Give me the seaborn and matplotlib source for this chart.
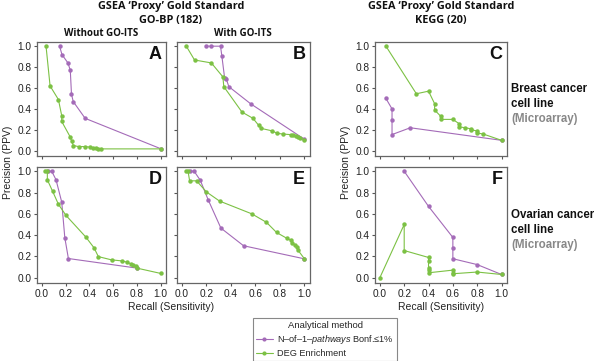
import numpy as np
import pandas as pd
import seaborn as sns
import matplotlib.pyplot as plt
from matplotlib.lines import Line2D

sns.set_style('ticks')
plt.rcParams['font.family'] = ['Liberation Sans', 'DejaVu Sans']
plt.rcParams['mathtext.fontset'] = 'custom'
plt.rcParams['mathtext.it'] = 'Liberation Sans:italic'
plt.rcParams['mathtext.rm'] = 'Liberation Sans'

methods = ['N\u2013of\u20131\u2013$\\it{pathways}$ Bonf.\u22641%', 'DEG Enrichment']
colors = ['#a46bb8', '#7cc144']

# A : GO-BP, without GO-ITS, breast
a_n1_recall = [0.15, 0.17, 0.22, 0.24, 0.25, 0.265, 0.365, 1.0]
a_n1_prec = [1.0, 0.92, 0.84, 0.77, 0.54, 0.47, 0.31, 0.02]
a_deg_recall = [0.036, 0.07, 0.14, 0.168, 0.168, 0.238, 0.252, 0.266, 0.31, 0.364,
                0.406, 0.434, 0.457, 0.475, 0.495, 1.0]
a_deg_prec = [1.0, 0.62, 0.49, 0.335, 0.28, 0.135, 0.09, 0.05, 0.04, 0.04,
              0.035, 0.028, 0.022, 0.018, 0.018, 0.018]

# B : GO-BP, with GO-ITS, breast
b_n1_recall = [0.193, 0.24, 0.315, 0.326, 0.348, 0.362, 0.383, 0.56, 1.0]
b_n1_prec = [1.0, 1.0, 1.0, 0.906, 0.70, 0.686, 0.613, 0.45, 0.11]
b_deg_recall = [0.036, 0.103, 0.24, 0.334, 0.342, 0.49, 0.58, 0.625, 0.647, 0.737,
                0.777, 0.823, 0.89, 0.91, 0.927, 0.946, 0.965, 1.0]
b_deg_prec = [1.0, 0.868, 0.84, 0.707, 0.613, 0.37, 0.31, 0.245, 0.214, 0.19,
              0.167, 0.16, 0.154, 0.148, 0.14, 0.13, 0.12, 0.104]

# C : KEGG, breast
c_n1_recall = [0.05, 0.10, 0.10, 0.10, 0.25, 1.0]
c_n1_prec = [0.50, 0.40, 0.29, 0.155, 0.22, 0.10]
c_deg_recall = [0.05, 0.30, 0.40, 0.45, 0.45, 0.50, 0.50, 0.60, 0.65, 0.65,
                0.70, 0.75, 0.75, 0.80, 0.80, 0.85, 1.0]
c_deg_prec = [1.0, 0.545, 0.57, 0.45, 0.39, 0.33, 0.30, 0.30, 0.26, 0.23,
              0.22, 0.21, 0.20, 0.19, 0.17, 0.16, 0.10]

# D : GO-BP, without GO-ITS, ovarian
d_n1_recall = [0.056, 0.084, 0.12, 0.168, 0.194, 0.224, 0.80]
d_n1_prec = [1.0, 1.0, 0.92, 0.71, 0.375, 0.18, 0.09]
d_deg_recall = [0.028, 0.047, 0.047, 0.092, 0.14, 0.204, 0.372, 0.44, 0.476, 0.588,
                0.672, 0.72, 0.748, 0.77, 0.79, 0.80, 1.0]
d_deg_prec = [1.0, 1.0, 0.92, 0.81, 0.69, 0.585, 0.38, 0.28, 0.198, 0.167,
              0.158, 0.145, 0.13, 0.12, 0.11, 0.09, 0.04]

# E : GO-BP, with GO-ITS, ovarian
e_n1_recall = [0.063, 0.10, 0.15, 0.215, 0.318, 0.503, 1.0]
e_n1_prec = [1.0, 1.0, 0.915, 0.73, 0.466, 0.30, 0.177]
e_deg_recall = [0.03, 0.05, 0.063, 0.12, 0.20, 0.307, 0.57, 0.69, 0.772, 0.856,
                0.89, 0.90, 0.92, 0.935, 0.946, 1.0]
e_deg_prec = [1.0, 1.0, 0.91, 0.91, 0.806, 0.72, 0.60, 0.52, 0.425, 0.37,
              0.35, 0.33, 0.31, 0.29, 0.26, 0.177]

# F : KEGG, ovarian
f_n1_recall = [0.2, 0.4, 0.6, 0.6, 0.6, 0.8, 1.0]
f_n1_prec = [1.0, 0.67, 0.378, 0.276, 0.178, 0.123, 0.03]
f_deg_recall = [0.0, 0.2, 0.2, 0.4, 0.4, 0.4, 0.4, 0.4, 0.6, 0.6, 0.6, 0.8, 1.0]
f_deg_prec = [0.0, 0.5, 0.255, 0.19, 0.154, 0.092, 0.068, 0.046, 0.071, 0.046,
              0.037, 0.053, 0.03]

ticks = [0.0, 0.2, 0.4, 0.6, 0.8, 1.0]
tick_labels = ['0.0', '0.2', '0.4', '0.6', '0.8', '1.0']

W, H = 600, 361
fig = plt.figure(figsize=(6, 3.61), dpi=100)


def px_axes(left, top, right, bottom):
    return fig.add_axes([left / W, 1 - bottom / H, (right - left) / W, (bottom - top) / H])


panels = [
    ('A', (37, 42, 166, 156), a_n1_recall, a_n1_prec, a_deg_recall, a_deg_prec, True, False),
    ('B', (177, 42, 310, 156), b_n1_recall, b_n1_prec, b_deg_recall, b_deg_prec, False, False),
    ('C', (375, 42, 507, 156), c_n1_recall, c_n1_prec, c_deg_recall, c_deg_prec, True, False),
    ('D', (37, 167, 166, 283), d_n1_recall, d_n1_prec, d_deg_recall, d_deg_prec, True, True),
    ('E', (177, 167, 310, 283), e_n1_recall, e_n1_prec, e_deg_recall, e_deg_prec, False, True),
    ('F', (375, 167, 507, 283), f_n1_recall, f_n1_prec, f_deg_recall, f_deg_prec, True, True),
]

for letter, box, n1x, n1y, degx, degy, ylab, xlab in panels:
    ax = px_axes(*box)
    df = pd.DataFrame({
        'recall': n1x + degx,
        'precision': n1y + degy,
        'method': [methods[0]] * len(n1x) + [methods[1]] * len(degx),
    })
    sns.lineplot(data=df, x='recall', y='precision', hue='method', hue_order=methods,
                 palette=colors, sort=False, estimator=None, marker='o',
                 markersize=3.2, markeredgewidth=0, linewidth=0.8, legend=False, ax=ax)
    ax.set_xlim(-0.04, 1.045)
    ax.set_ylim(-0.05, 1.04)
    ax.set_xticks(ticks)
    ax.set_yticks(ticks)
    ax.set_xticklabels(tick_labels if xlab else [])
    ax.set_yticklabels(tick_labels if ylab else [])
    ax.set_xlabel('')
    ax.set_ylabel('')
    ax.tick_params(direction='out', length=2.5, width=0.8, color='#555555',
                   labelsize=7.3, pad=1.5, labelcolor='#222222')
    for s in ax.spines.values():
        s.set_visible(True)
        s.set_color('#666666')
        s.set_linewidth(0.9)
    ax.text(0.965, 0.965, letter, transform=ax.transAxes, ha='right', va='top',
            fontsize=13, fontweight='bold', color='#111111')


def ftext(x, y, s, **kw):
    fig.text(x / W, 1 - y / H, s, **kw)


title_kw = dict(ha='center', va='center', fontsize=7.8, fontweight='bold',
                family=['Open Sans', 'DejaVu Sans'], color='#111111')
ftext(171, 6, 'GSEA \u2018Proxy\u2019 Gold Standard', **title_kw)
ftext(171, 20, 'GO-BP (182)', **title_kw)
ftext(441, 6, 'GSEA \u2018Proxy\u2019 Gold Standard', **title_kw)
ftext(441, 20, 'KEGG (20)', **title_kw)
ftext(101, 34, 'Without GO-ITS', **dict(title_kw, fontsize=7))
ftext(243, 34, 'With GO-ITS', **dict(title_kw, fontsize=7))

row_kw = dict(ha='left', va='center', fontsize=8.3, fontweight='bold')
ftext(511, 89, 'Breast cancer', color='#111111', **row_kw)
ftext(511, 104, 'cell line', color='#111111', **row_kw)
ftext(511, 119, '(Microarray)', color='#888888', **row_kw)
ftext(511, 215, 'Ovarian cancer', color='#111111', **row_kw)
ftext(511, 230, 'cell line', color='#111111', **row_kw)
ftext(511, 245, '(Microarray)', color='#888888', **row_kw)

lab_kw = dict(ha='center', va='center', fontsize=7.5, color='#222222')
ftext(8, 162, 'Precision (PPV)', rotation=90, **lab_kw)
ftext(346, 162, 'Precision (PPV)', rotation=90, **lab_kw)
ftext(171, 307, 'Recall (Sensitivity)', **lab_kw)
ftext(441, 307, 'Recall (Sensitivity)', **lab_kw)

handles = [Line2D([], [], color=c, marker='o', markersize=3, markeredgewidth=0, linewidth=0.8)
           for c in colors]
leg = fig.legend(handles, methods, title='Analytical method', loc='upper left',
                 bbox_to_anchor=(253 / W, 1 - 318 / H), fontsize=6.6, title_fontsize=6.8,
                 frameon=True, fancybox=False, edgecolor='#888888', framealpha=1,
                 handlelength=1.8, handletextpad=0.5, borderpad=0.35, labelspacing=0.3,
                 borderaxespad=0)
leg.get_frame().set_linewidth(0.8)
fig.add_artist(Line2D([253 / W, 392 / W], [1 - 332 / H, 1 - 332 / H], color='#888888', linewidth=0.8))

fig.savefig('out.png', dpi=100)
